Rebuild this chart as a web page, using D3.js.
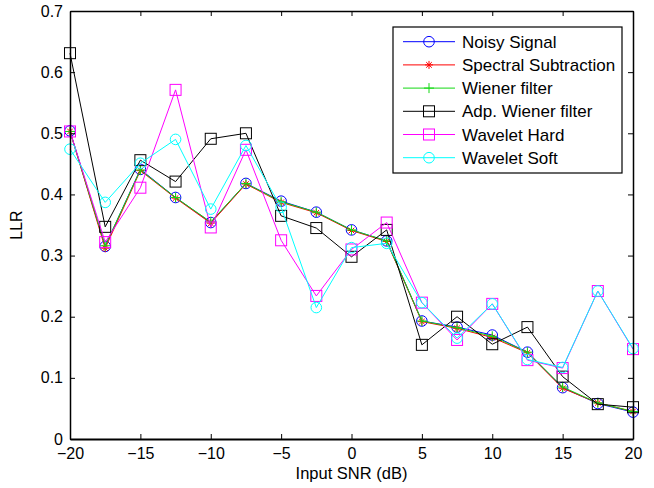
<!DOCTYPE html>
<html><head><meta charset="utf-8">
<script src="https://cdn.jsdelivr.net/npm/d3@7"></script>
<style>body{margin:0;background:#fff}svg{display:block}text{font-family:"Liberation Sans",Arial,sans-serif;fill:#000}</style>
</head><body><svg id="c" width="654" height="488"></svg>
<script>
const snr = [-20,-17.5,-15,-12.5,-10,-7.5,-5,-2.5,0,2.5,5,7.5,10,12.5,15,17.5,20];
const noisy    = [0.504,0.315,0.441,0.395,0.354,0.418,0.389,0.371,0.342,0.324,0.193,0.183,0.170,0.142,0.084,0.058,0.044];
const spectral = [0.503,0.312,0.439,0.394,0.353,0.417,0.387,0.370,0.341,0.323,0.192,0.181,0.166,0.141,0.083,0.059,0.045];
const wiener   = [0.503,0.316,0.440,0.395,0.355,0.418,0.388,0.371,0.342,0.324,0.193,0.182,0.168,0.142,0.085,0.059,0.045];
const adpWiener= [0.631,0.347,0.456,0.421,0.491,0.500,0.365,0.345,0.298,0.342,0.154,0.200,0.155,0.183,0.102,0.057,0.052];
const wavHard  = [0.503,0.322,0.411,0.571,0.346,0.473,0.325,0.234,0.310,0.354,0.223,0.162,0.221,0.129,0.116,0.242,0.147];
const wavSoft  = [0.474,0.387,0.451,0.490,0.376,0.480,0.379,0.215,0.313,0.320,0.223,0.165,0.221,0.130,0.117,0.242,0.148];
const seriesNames = ["Noisy Signal","Spectral Subtraction","Wiener filter","Adp. Wiener filter","Wavelet Hard","Wavelet Soft"];
const seriesColors = ["#0000ff","#ff0000","#14d814","#000000","#ff00ff","#00ffff"];
const seriesMarkers = ["circle","star","plus","square","square","circle"];
const xTicks = [-20,-15,-10,-5,0,5,10,15,20];
const yTicks = [0,0.1,0.2,0.3,0.4,0.5,0.6,0.7];
const seriesData = [noisy,spectral,wiener,adpWiener,wavHard,wavSoft];

const L=70,R=633,T=11,B=439;
const svg=d3.select("#c");
const x=d3.scaleLinear().domain([-20,20]).range([L,R]);
const y=d3.scaleLinear().domain([0,0.7]).range([B,T]);

function marker(g,type,cx,cy,color){
  if(type==="circle") g.append("circle").attr("cx",cx).attr("cy",cy).attr("r",5.3).attr("fill","none").attr("stroke",color).attr("stroke-width",1);
  else if(type==="square") g.append("rect").attr("x",cx-5.5).attr("y",cy-5.5).attr("width",11).attr("height",11).attr("fill","none").attr("stroke",color).attr("stroke-width",1);
  else if(type==="plus"){
    g.append("path").attr("d",`M${cx-5},${cy}H${cx+5}M${cx},${cy-5}V${cy+5}`).attr("stroke",color).attr("stroke-width",1);
  } else if(type==="star"){
    const r=4;
    g.append("path").attr("d",`M${cx-r},${cy}H${cx+r}M${cx},${cy-r}V${cy+r}M${cx-r*0.7},${cy-r*0.7}L${cx+r*0.7},${cy+r*0.7}M${cx-r*0.7},${cy+r*0.7}L${cx+r*0.7},${cy-r*0.7}`).attr("stroke",color).attr("stroke-width",1);
  }
}

// series
const line=d3.line().x((d,i)=>x(snr[i])).y(d=>y(d));
seriesData.forEach((data,k)=>{
  const g=svg.append("g");
  g.append("path").attr("d",line(data)).attr("fill","none").attr("stroke",seriesColors[k]).attr("stroke-width",1);
  data.forEach((v,i)=>marker(g,seriesMarkers[k],x(snr[i]),y(v),seriesColors[k]));
});

// axes (MATLAB-style box with inward ticks)
const xb=svg.append("g").attr("transform",`translate(0,${B})`).call(d3.axisBottom(x).tickValues(xTicks).tickSizeInner(-5).tickSizeOuter(0).tickPadding(9).tickFormat(d3.format("d")));
const xt=svg.append("g").attr("transform",`translate(0,${T})`).call(d3.axisTop(x).tickValues(xTicks).tickSizeInner(-5).tickSizeOuter(0).tickFormat(""));
const yl=svg.append("g").attr("transform",`translate(${L},0)`).call(d3.axisLeft(y).tickValues(yTicks).tickSizeInner(-5).tickSizeOuter(0).tickPadding(7).tickFormat(d=>d===0?"0":d3.format(".1f")(d)));
const yr=svg.append("g").attr("transform",`translate(${R},0)`).call(d3.axisRight(y).tickValues(yTicks).tickSizeInner(-5).tickSizeOuter(0).tickFormat(""));
[xb,xt,yl,yr].forEach(a=>{a.selectAll(".domain").attr("stroke","#000").attr("stroke-width",1.5);a.selectAll(".tick line").attr("stroke","#000");a.selectAll("text").attr("font-size",16).attr("font-family","Liberation Sans, Arial, sans-serif").attr("fill","#000");});
xb.select(".domain").attr("stroke-width",2);

svg.append("text").attr("x",(L+R)/2).attr("y",479).attr("text-anchor","middle").attr("font-size",16.5).text("Input SNR (dB)");
svg.append("text").attr("transform",`translate(22,${(T+B)/2}) rotate(-90)`).attr("text-anchor","middle").attr("font-size",16).text("LLR");

// legend
const lg=svg.append("g");
lg.append("rect").attr("x",393).attr("y",27).attr("width",229).attr("height",146).attr("fill","#fff").attr("stroke","#000").attr("stroke-width",1.2);
seriesNames.forEach((n,k)=>{
  const yy=41.7+k*23.2;
  lg.append("line").attr("x1",403).attr("x2",455).attr("y1",yy).attr("y2",yy).attr("stroke",seriesColors[k]).attr("stroke-width",1);
  marker(lg,seriesMarkers[k],429,yy,seriesColors[k]);
  lg.append("text").attr("x",462).attr("y",yy).attr("dy","0.36em").attr("font-size",17).text(n);
});
</script></body></html>
